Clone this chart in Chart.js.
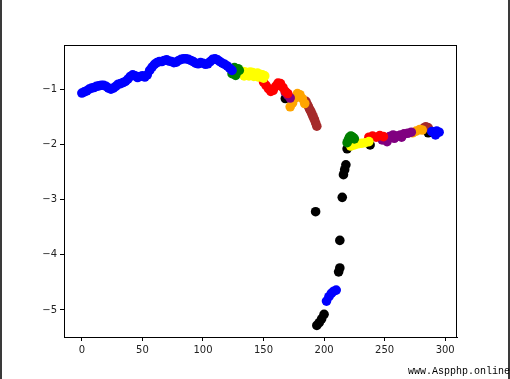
<!DOCTYPE html>
<html><head><meta charset="utf-8">
<script src="https://cdn.jsdelivr.net/npm/chart.js@4"></script>
<style>
html,body{margin:0;padding:0;background:#fff;}
#wrap{position:relative;width:510px;height:379px;overflow:hidden;}
#c{position:absolute;left:0;top:0;}
.bl{position:absolute;top:0;left:0;width:2px;height:379px;background:#3a3a3a;}
.br{position:absolute;top:0;right:0;width:2px;height:379px;background:#3a3a3a;}
#wm{position:absolute;left:408px;top:366px;font-family:"Liberation Mono","DejaVu Sans Mono",monospace;font-size:10px;color:#000;white-space:nowrap;}
</style></head><body>
<div id="wrap"><canvas id="c" width="510" height="379"></canvas><div class="bl"></div><div class="br"></div><div id="wm">www.Aspphp.online</div></div>
<script>
const xTicks=[0,50,100,150,200,250,300];
const yTicks=[-5,-4,-3,-2,-1];
const blueX=[0,2,4,6,8,10,12,14,16,18,20,22,24,26,28,30,32,34,36,38,40,42,44,46,48,50,52,54,56,58,60,62,64,66,68,70,72,74,76,78,80,82,84,86,88,90,92,94,96,98,100,102,104,106,108,110,112,114,116,118,120,122,124,
 202,204,206,208,210, 289,291,293,295,292];
const blueY=[-1.07,-1.05,-1.03,-1.00,-0.98,-0.97,-0.95,-0.94,-0.93,-0.93,-0.95,-0.98,-1.00,-0.98,-0.95,-0.91,-0.90,-0.88,-0.86,-0.82,-0.77,-0.74,-0.76,-0.79,-0.77,-0.76,-0.78,-0.74,-0.66,-0.60,-0.55,-0.52,-0.50,-0.50,-0.48,-0.47,-0.49,-0.50,-0.52,-0.51,-0.48,-0.46,-0.45,-0.45,-0.46,-0.48,-0.50,-0.53,-0.54,-0.52,-0.53,-0.55,-0.54,-0.50,-0.46,-0.45,-0.47,-0.50,-0.53,-0.55,-0.58,-0.62,-0.66,
 -4.84,-4.76,-4.70,-4.66,-4.64, -1.77,-1.79,-1.76,-1.78,-1.83];
const greenX=[124,125,126,127,128,129,130, 219,220,221,222,223,224,225];
const greenY=[-0.72,-0.66,-0.61,-0.75,-0.68,-0.63,-0.66, -1.97,-1.92,-1.87,-1.85,-1.86,-1.88,-1.90];
const yellowX=[131,133,135,137,139,141,143,145,147,149,151, 134,138,142,146,150, 222,225,228,231,234,237];
const yellowY=[-0.70,-0.68,-0.69,-0.71,-0.69,-0.70,-0.72,-0.71,-0.73,-0.74,-0.76, -0.76,-0.76,-0.77,-0.78,-0.80, -2.03,-2.01,-1.99,-1.98,-1.97,-1.95];
const redX=[150,152,154,156,158,160,162,164,166,168,170, 237,240,243,246,249];
const redY=[-0.87,-0.93,-0.99,-1.04,-1.02,-0.95,-0.89,-0.90,-0.97,-1.04,-1.08, -1.87,-1.85,-1.87,-1.84,-1.86];
const purpleX=[168,170,172, 248,251,254,257,260,263,266,269,272, 252,258,264];
const purpleY=[-1.06,-1.11,-1.16, -1.92,-1.89,-1.86,-1.83,-1.85,-1.83,-1.81,-1.80,-1.78, -1.95,-1.89,-1.87];
const orangeX=[172,174,176,178,180,182,184, 273,276,279,281];
const orangeY=[-1.32,-1.25,-1.16,-1.08,-1.10,-1.17,-1.26, -1.79,-1.76,-1.73,-1.74];
const brownX=[185,186,187,188,189,190,191,192,193,194, 282,284,286];
const brownY=[-1.22,-1.27,-1.31,-1.36,-1.40,-1.45,-1.50,-1.55,-1.61,-1.67, -1.71,-1.68,-1.70];
const blackX=[168,193,194,196,198,200,212,213,213,215,216,217,218,219,238,286];
const blackY=[-1.17,-3.22,-5.28,-5.23,-5.16,-5.08,-4.31,-4.24,-3.74,-2.96,-2.55,-2.46,-2.37,-2.08,-2.01,-1.79];

function pts(xs,ys){return xs.map((x,i)=>({x:x,y:ys[i]}));}
const series=[[blueX,blueY,'#0000ff'],[greenX,greenY,'#008000'],[yellowX,yellowY,'#ffff00'],[redX,redY,'#ff0000'],[purpleX,purpleY,'#800080'],[orangeX,orangeY,'#ffa500'],[brownX,brownY,'#a52a2a'],[blackX,blackY,'#000000']];
const frame={id:'frame',afterDraw(ch){const a=ch.chartArea,c=ch.ctx;c.save();c.strokeStyle='#000';c.lineWidth=1;c.strokeRect(Math.round(a.left)+0.5,Math.round(a.top)+0.5,Math.round(a.right-a.left)-1,Math.round(a.bottom-a.top));c.restore();}};
const fmt=v=>String(v).replace('-','\u2212');
new Chart(document.getElementById('c'),{type:'scatter',
 data:{datasets:series.map(s=>({data:pts(s[0],s[1]),backgroundColor:s[2],borderWidth:0,pointRadius:4.8,pointHoverRadius:4.8}))},
 options:{responsive:false,animation:false,events:[],
  layout:{padding:{left:0,top:45,right:53,bottom:0}},
  plugins:{legend:{display:false},tooltip:{enabled:false}},
  scales:{
   x:{type:'linear',min:-14.75,max:309.75,afterFit:s=>{s.height=42;},
      afterBuildTicks:s=>{s.ticks=xTicks.map(v=>({value:v}));},
      grid:{display:true,drawOnChartArea:false,drawTicks:true,tickLength:4,color:'#000'},
      border:{display:true,color:'#000'},
      ticks:{color:'#222',padding:3,font:{family:'DejaVu Sans',size:10},callback:v=>fmt(v),maxRotation:0}},
   y:{type:'linear',min:-5.49,max:-0.2,afterFit:s=>{s.width=64;},
      afterBuildTicks:s=>{s.ticks=yTicks.map(v=>({value:v}));},
      grid:{display:true,drawOnChartArea:false,drawTicks:true,tickLength:4,color:'#000'},
      border:{display:true,color:'#000'},
      ticks:{color:'#222',padding:3,font:{family:'DejaVu Sans',size:10},callback:v=>fmt(v)}}
  }},plugins:[frame]});
</script></body></html>
